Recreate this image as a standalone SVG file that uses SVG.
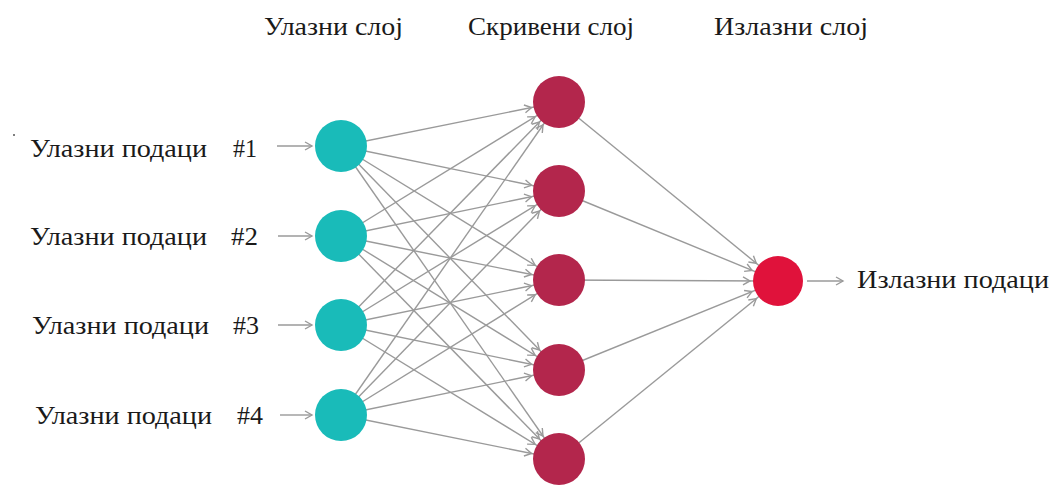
<svg xmlns="http://www.w3.org/2000/svg" width="1053" height="486" viewBox="0 0 1053 486">
  <style>
    .edge { stroke: #9a9a9a; stroke-width: 1.4; fill: none; }
    .in { fill: #19BBB9; }
    .hid { fill: #B3264C; }
    .out { fill: #E0123B; }
  </style>
  <defs>
    <!-- arrowhead set back from the line end by the target radius -->
    <marker id="tipNode" markerUnits="userSpaceOnUse" orient="auto" overflow="visible" markerWidth="1" markerHeight="1" refX="0" refY="0">
      <path d="M-35,-4 L-28,0 L-35,4" fill="none" stroke="#9a9a9a" stroke-width="1.4"/>
    </marker>
    <marker id="tip" markerUnits="userSpaceOnUse" orient="auto" overflow="visible" markerWidth="1" markerHeight="1" refX="0" refY="0">
      <path d="M-7,-4 L0,0 L-7,4" fill="none" stroke="#9a9a9a" stroke-width="1.4"/>
    </marker>
  </defs>

  <rect width="1053" height="486" fill="#ffffff"/>

  <g font-family="Liberation Serif, Tinos, DejaVu Serif, serif" font-size="26" fill="#1a1a1a">
  <!-- layer titles -->
  <g id="titles">
    <text x="264" y="35" textLength="139" lengthAdjust="spacingAndGlyphs">Улазни слој</text>
    <text x="468" y="35" textLength="166" lengthAdjust="spacingAndGlyphs">Скривени слој</text>
    <text x="714" y="35" textLength="154" lengthAdjust="spacingAndGlyphs">Излазни слој</text>
  </g>

  <circle cx="14" cy="135" r="1" fill="#555"/>

  <!-- connectors -->
  <g id="connectors" class="edge" marker-end="url(#tipNode)">
    <!-- input -> hidden -->
    <line x1="341" y1="146" x2="559" y2="102"/>
    <line x1="341" y1="146" x2="559" y2="191"/>
    <line x1="341" y1="146" x2="559" y2="280"/>
    <line x1="341" y1="146" x2="559" y2="370"/>
    <line x1="341" y1="146" x2="559" y2="459"/>
    <line x1="341" y1="236" x2="559" y2="102"/>
    <line x1="341" y1="236" x2="559" y2="191"/>
    <line x1="341" y1="236" x2="559" y2="280"/>
    <line x1="341" y1="236" x2="559" y2="370"/>
    <line x1="341" y1="236" x2="559" y2="459"/>
    <line x1="341" y1="325" x2="559" y2="102"/>
    <line x1="341" y1="325" x2="559" y2="191"/>
    <line x1="341" y1="325" x2="559" y2="280"/>
    <line x1="341" y1="325" x2="559" y2="370"/>
    <line x1="341" y1="325" x2="559" y2="459"/>
    <line x1="341" y1="415" x2="559" y2="102"/>
    <line x1="341" y1="415" x2="559" y2="191"/>
    <line x1="341" y1="415" x2="559" y2="280"/>
    <line x1="341" y1="415" x2="559" y2="370"/>
    <line x1="341" y1="415" x2="559" y2="459"/>
    <!-- hidden -> output -->
    <line x1="559" y1="102" x2="778" y2="281"/>
    <line x1="559" y1="191" x2="778" y2="281"/>
    <line x1="559" y1="280" x2="778" y2="281"/>
    <line x1="559" y1="370" x2="778" y2="281"/>
    <line x1="559" y1="459" x2="778" y2="281"/>
  </g>
  <g id="io-arrows" class="edge" marker-end="url(#tip)">
    <line x1="277" y1="146" x2="312" y2="146"/>
    <line x1="278" y1="236" x2="312" y2="236"/>
    <line x1="278" y1="325" x2="312" y2="325"/>
    <line x1="280" y1="415" x2="312" y2="415"/>
    <line x1="807" y1="281" x2="843" y2="281"/>
  </g>

  <!-- input layer -->
  <g id="input-1"><circle class="in" cx="341" cy="146" r="26"/><text x="30" y="157" textLength="177" lengthAdjust="spacingAndGlyphs">Улазни подаци</text><text x="233" y="157" textLength="24" lengthAdjust="spacingAndGlyphs">#1</text></g>
  <g id="input-2"><circle class="in" cx="341" cy="236" r="26"/><text x="30" y="245" textLength="177" lengthAdjust="spacingAndGlyphs">Улазни подаци</text><text x="231" y="245" textLength="27" lengthAdjust="spacingAndGlyphs">#2</text></g>
  <g id="input-3"><circle class="in" cx="341" cy="325" r="26"/><text x="32" y="334" textLength="177" lengthAdjust="spacingAndGlyphs">Улазни подаци</text><text x="233" y="334" textLength="26" lengthAdjust="spacingAndGlyphs">#3</text></g>
  <g id="input-4"><circle class="in" cx="341" cy="415" r="26"/><text x="35" y="424" textLength="177" lengthAdjust="spacingAndGlyphs">Улазни подаци</text><text x="237" y="424" textLength="26" lengthAdjust="spacingAndGlyphs">#4</text></g>

  <!-- hidden layer -->
  <g id="hidden-1"><circle class="hid" cx="559" cy="102" r="26"/></g>
  <g id="hidden-2"><circle class="hid" cx="559" cy="191" r="26"/></g>
  <g id="hidden-3"><circle class="hid" cx="559" cy="280" r="26"/></g>
  <g id="hidden-4"><circle class="hid" cx="559" cy="370" r="26"/></g>
  <g id="hidden-5"><circle class="hid" cx="559" cy="459" r="26"/></g>

  <!-- output layer -->
  <g id="output"><circle class="out" cx="778" cy="281" r="25"/><text x="857" y="288" textLength="192" lengthAdjust="spacingAndGlyphs">Излазни подаци</text></g>
  </g>
</svg>
